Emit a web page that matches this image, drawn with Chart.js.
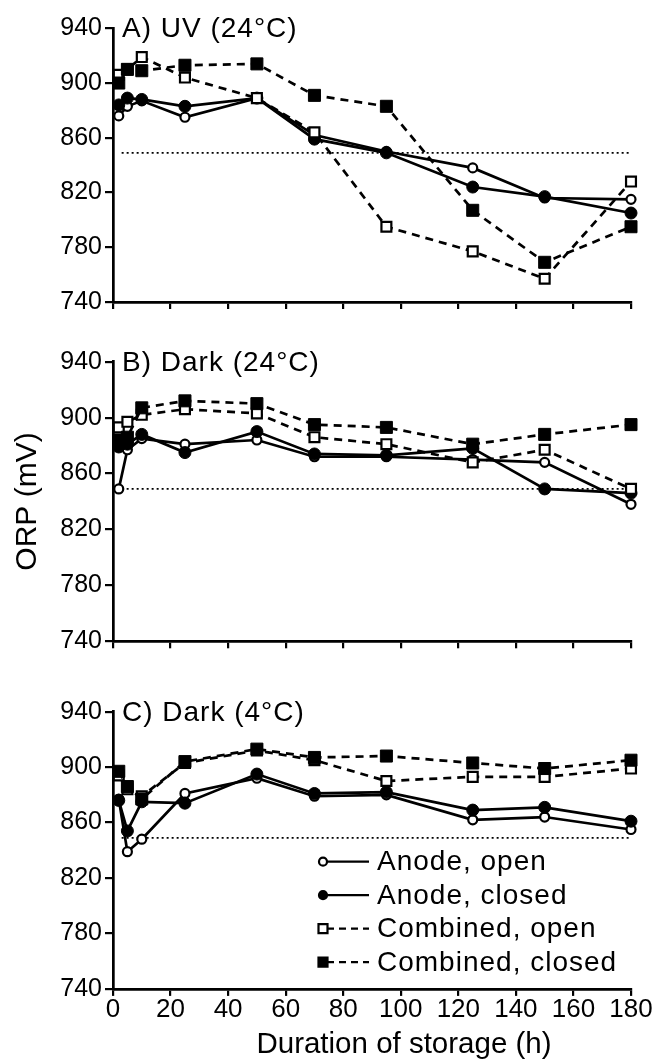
<!doctype html>
<html lang="en">
<head>
  <meta charset="utf-8">
  <title>ORP during storage</title>
  <script src="https://cdn.jsdelivr.net/npm/chart.js"></script>
  <style>
    html, body { margin: 0; padding: 0; background: #fff; }
    #wrap { position: relative; width: 657px; height: 1063px; }
    canvas { position: absolute; left: 0; }
  </style>
</head>
<body>
  <div id="wrap">
    <canvas id="panelA" width="657" height="320" style="top:0"></canvas>
    <canvas id="panelB" width="657" height="330" style="top:330px"></canvas>
    <canvas id="panelC" width="657" height="403" style="top:660px"></canvas>
  </div>

  <script>
    // storage time (h) for every series
    const HOURS = [2, 5, 10, 25, 50, 70, 95, 125, 150, 180];
    const REF_ORP = 849;           // dotted reference line
    const Y_TICKS = [740, 780, 820, 860, 900, 940];

    // A) UV (24°C)
    const uvAnodeOpen    = [876, 883, 887, 875, 889, 862, 850, 838, 816, 815];
    const uvAnodeClosed  = [884, 889, 888, 883, 889, 859, 849, 824, 817, 805];
    const uvCombOpen     = [906, 910, 919, 904, 889, 864, 795, 777, 757, 828];
    const uvCombClosed   = [900, 910, 909, 913, 914, 891, 883, 807, 769, 795];

    // B) Dark (24°C)
    const darkAnodeOpen   = [849, 877, 885, 881, 884, 872, 872, 870, 868, 838];
    const darkAnodeClosed = [879, 881, 888, 875, 890, 874, 873, 878, 849, 846];
    const darkCombOpen    = [893, 897, 902, 906, 903, 886, 881, 868, 877, 849];
    const darkCombClosed  = [884, 886, 907, 912, 910, 895, 893, 881, 888, 895];

    // C) Dark (4°C)
    const coldAnodeOpen   = [877, 839, 848, 881, 892, 879, 880, 862, 864, 855];
    const coldAnodeClosed = [876, 854, 875, 874, 895, 881, 882, 869, 871, 861];
    const coldCombOpen    = [894, 884, 879, 903, 912, 905, 890, 893, 893, 899];
    const coldCombClosed  = [897, 886, 877, 904, 913, 907, 908, 903, 899, 905];

    const SERIES_NAMES = ['Anode, open', 'Anode, closed', 'Combined, open', 'Combined, closed'];

    const FONT = '"Liberation Sans", Arial, sans-serif';

    const pts = vals => HOURS.map((h, i) => ({ x: h, y: vals[i] }));

    // marker / line look for each of the four series
    const looks = [
      { pointStyle: 'circle', pointRadius: 4.5, pointBackgroundColor: '#fff', pointBorderWidth: 2.2, borderDash: [] },
      { pointStyle: 'circle', pointRadius: 6,   pointBackgroundColor: '#000', pointBorderWidth: 1, borderDash: [] },
      { pointStyle: 'rect',   pointRadius: 7,   pointBackgroundColor: '#fff', pointBorderWidth: 2.2, borderDash: [8, 6] },
      { pointStyle: 'rect',   pointRadius: 8.5, pointBackgroundColor: '#000', pointBorderWidth: 1, borderDash: [8, 6] }
    ];

    // panel title + (optional) legend and x caption
    const panelText = {
      id: 'panelText',
      afterDraw(chart, args, opts) {
        const { ctx, chartArea } = chart;
        ctx.save();
        ctx.fillStyle = '#000';
        ctx.strokeStyle = '#000';
        ctx.font = '28px ' + FONT;
        ctx.letterSpacing = '1px';
        ctx.textBaseline = 'alphabetic';
        ctx.fillText(opts.title, chartArea.left + 9, chartArea.top + 9);

        if (opts.legend) {
          ctx.letterSpacing = '1px';
          ctx.textBaseline = 'middle';
          SERIES_NAMES.forEach((name, i) => {
            const y = chartArea.top + 150 + i * 33.5;
            const mx = chartArea.left + 210;
            ctx.lineWidth = 2.2;
            ctx.setLineDash(i < 2 ? [] : [7, 5]);
            ctx.beginPath();
            ctx.moveTo(mx + 4, y);
            ctx.lineTo(mx + 46, y);
            ctx.stroke();
            ctx.setLineDash([]);
            ctx.beginPath();
            if (i < 2) ctx.arc(mx, y, 4, 0, Math.PI * 2);
            else ctx.rect(mx - 4.5, y - 4.5, 9, 9);
            ctx.fillStyle = i % 2 ? '#000' : '#fff';
            ctx.fill();
            ctx.stroke();
            ctx.fillStyle = '#000';
            ctx.fillText(name, mx + 54, y + 1);
          });
        }

        if (opts.xCaption) {
          ctx.letterSpacing = '0px';
          ctx.font = '29.5px ' + FONT;
          ctx.textAlign = 'center';
          ctx.textBaseline = 'alphabetic';
          ctx.fillText(opts.xCaption, 404, chart.height - 10);
        }
        ctx.restore();
      }
    };

    function makePanel(id, title, series, top, xHeight, extra) {
      const datasets = series.map((vals, i) => Object.assign({
        label: SERIES_NAMES[i],
        data: pts(vals),
        borderColor: '#000',
        pointBorderColor: '#000',
        borderWidth: 2.7,
        clip: false,
        order: 4 - i
      }, looks[i]));
      datasets.push({
        label: 'ref',
        data: [{ x: 3, y: REF_ORP }, { x: 180, y: REF_ORP }],
        borderColor: '#000',
        borderWidth: 1.8,
        borderDash: [2, 3],
        pointRadius: 0,
        order: 10
      });

      return new Chart(document.getElementById(id), {
        type: 'line',
        data: { datasets },
        plugins: [panelText],
        options: {
          responsive: false,
          animation: false,
          layout: { padding: { top: top, right: 26, left: 0, bottom: 0 } },
          plugins: {
            legend: { display: false },
            tooltip: { enabled: false },
            panelText: Object.assign({ title }, extra || {})
          },
          scales: {
            x: {
              type: 'linear',
              min: 0, max: 180,
              ticks: {
                stepSize: 20,
                display: !!(extra && extra.xLabels),
                color: '#000',
                padding: -2,
                font: { family: FONT, size: 26 }
              },
              grid: { drawOnChartArea: false, drawTicks: true, tickLength: 7, lineWidth: 2.2, color: '#000' },
              border: { display: true, width: 2.7, color: '#000' },
              afterFit: s => { s.height = xHeight; }
            },
            y: {
              min: 740, max: 940,
              afterBuildTicks: s => { s.ticks = Y_TICKS.map(v => ({ value: v })); },
              ticks: { color: '#000', padding: 3, font: { family: FONT, size: 25 } },
              grid: { drawOnChartArea: false, drawTicks: true, tickLength: 8, lineWidth: 2.2, color: '#000' },
              border: { display: true, width: 2.7, color: '#000' },
              title: {
                display: !!(extra && extra.yTitle),
                text: 'ORP (mV)',
                color: '#000',
                padding: { top: 10, bottom: 0 },
                font: { family: FONT, size: 30 }
              },
              afterFit: s => { s.width = 113; }
            }
          }
        }
      });
    }

    makePanel('panelA', 'A) UV (24°C)',
      [uvAnodeOpen, uvAnodeClosed, uvCombOpen, uvCombClosed], 28.3, 15);
    makePanel('panelB', 'B) Dark (24°C)',
      [darkAnodeOpen, darkAnodeClosed, darkCombOpen, darkCombClosed], 31.7, 18.7,
      { yTitle: true });
    makePanel('panelC', 'C) Dark (4°C)',
      [coldAnodeOpen, coldAnodeClosed, coldCombOpen, coldCombClosed], 51.7, 74.1,
      { legend: true, xLabels: true, xCaption: 'Duration of storage (h)' });
  </script>
</body>
</html>
